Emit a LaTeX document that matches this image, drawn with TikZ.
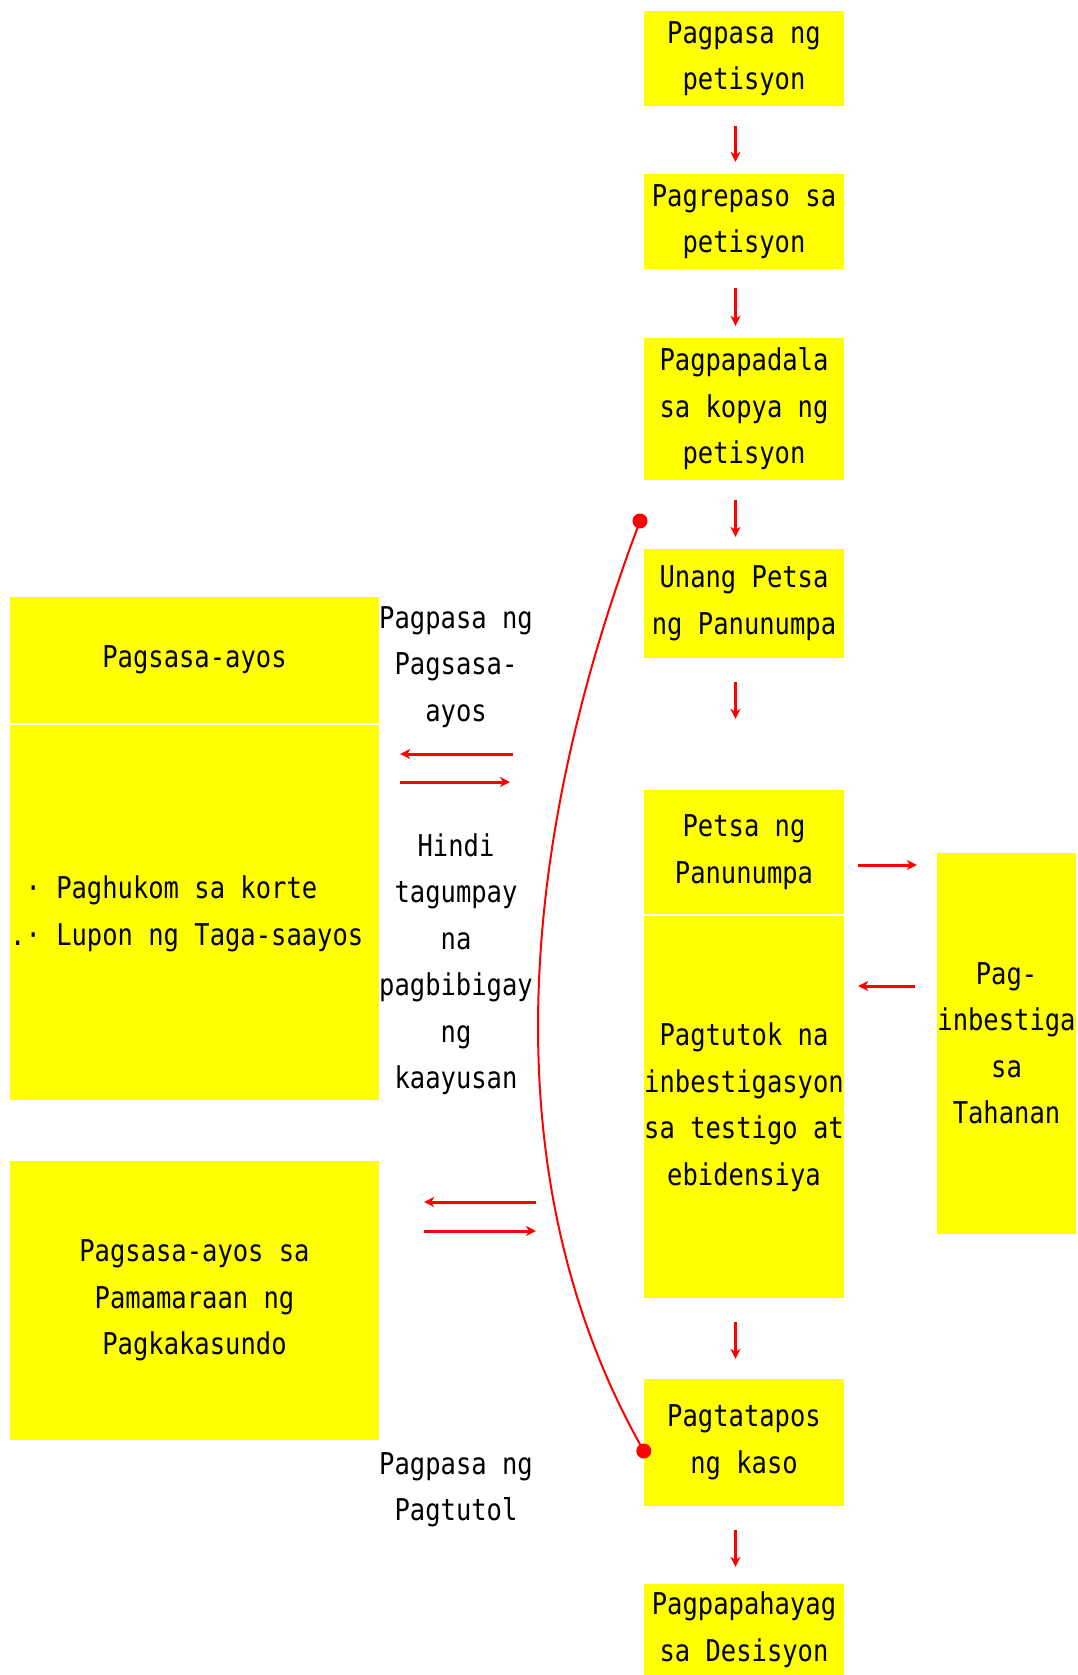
\documentclass[tikz,border=0pt]{standalone}
\usepackage{fontspec}
\newfontfamily\gmono[FakeStretch=0.85]{DejaVu Sans Mono}
\usetikzlibrary{arrows.meta}
\definecolor{ybox}{RGB}{255,255,0}
\definecolor{rline}{RGB}{255,0,0}
\newcommand\dtxt{\gmono\fontsize{30}{46.5}\selectfont}
\begin{document}
\begin{tikzpicture}[x=1pt,y=-1pt,
  box/.style={fill=ybox, inner sep=0pt, align=center, font=\dtxt, text=black},
  lbl/.style={inner sep=0pt, align=center, font=\dtxt, text=black},
  arr/.style={draw=rline, line width=3pt, -{Stealth[length=10pt,width=10pt,inset=3pt]}},
  curv/.style={draw=rline, line width=2pt},
  dotp/.style={fill=rline}
]
\useasboundingbox (0,0) rectangle (1078,1675);

% main column
\node[box, minimum width=200pt, minimum height=95pt]  (b1) at (744,58.5)  {Pagpasa ng\\petisyon};
\node[box, minimum width=200pt, minimum height=95pt]  (b2) at (744,221.5) {Pagrepaso sa\\petisyon};
\node[box, minimum width=200pt, minimum height=142pt] (b3) at (744,409)   {Pagpapadala\\sa kopya ng\\petisyon};
\node[box, minimum width=200pt, minimum height=109pt] (b4) at (744,603.5) {Unang Petsa\\ng Panunumpa};
\node[box, minimum width=200pt, minimum height=124pt] (b5) at (744,852)   {Petsa ng\\Panunumpa};
\node[box, minimum width=200pt, minimum height=382pt] (b6) at (744,1107)  {Pagtutok na\\inbestigasyon\\sa testigo at\\ebidensiya};
\node[box, minimum width=200pt, minimum height=127pt] (b7) at (744,1442.5){Pagtatapos\\ng kaso};
\node[box, minimum width=200pt, minimum height=91pt]  (b8) at (744,1629.5){Pagpapahayag\\sa Desisyon};

% right box
\node[box, minimum width=139pt, minimum height=381pt] (r) at (1006.5,1043.5) {Pag-\\inbestiga\\sa\\Tahanan};

% left boxes
\node[box, minimum width=369pt, minimum height=126pt] (la) at (194.5,660) {Pagsasa-ayos};
\node[box, minimum width=369pt, minimum height=375pt] (lb) at (194.5,912.5) {};
\node[lbl, align=left, anchor=west] (lbt) at (10,914) {\phantom{.}· Paghukom sa korte\\.· Lupon ng Taga-saayos};
\node[box, minimum width=369pt, minimum height=279pt] (lc) at (194.5,1300.5) {Pagsasa-ayos sa\\Pamamaraan ng\\Pagkakasundo};

% labels
\node[lbl] (l1) at (456,667) {Pagpasa ng\\Pagsasa-\\ayos};
\node[lbl] (l2) at (456,964) {Hindi\\tagumpay\\na\\pagbibigay\\ng\\kaayusan};
\node[lbl] (l3) at (456,1490) {Pagpasa ng\\Pagtutol};

% vertical arrows
\draw[arr, shorten <=20pt, shorten >=12pt] ([xshift=-8.5pt]b1.south) -- ([xshift=-8.5pt]b2.north);
\draw[arr, shorten <=19pt, shorten >=12pt] ([xshift=-8.5pt]b2.south) -- ([xshift=-8.5pt]b3.north);
\draw[arr, shorten <=20pt, shorten >=12pt] ([xshift=-8.5pt]b3.south) -- ([xshift=-8.5pt]b4.north);
\draw[arr, shorten <=24pt, shorten >=71pt] ([xshift=-8.5pt]b4.south) -- ([xshift=-8.5pt]b5.north);
\draw[arr, shorten <=24pt, shorten >=20pt] ([xshift=-8.5pt]b6.south) -- ([xshift=-8.5pt]b7.north);
\draw[arr, shorten <=24pt, shorten >=17pt] ([xshift=-8.5pt]b7.south) -- ([xshift=-8.5pt]b8.north);

% right side arrows
\draw[arr, shorten <=14pt, shorten >=20pt] ([yshift=-13pt]b5.east) -- ([yshift=-13pt]b5.east -| r.west);
\draw[arr, shorten <=22pt, shorten >=14pt] ([yshift=121pt]b6.east -| r.west) -- ([yshift=121pt]b6.east);

% left middle arrows
\coordinate (a1) at (513,754);
\coordinate (a2) at (510,782);
\draw[arr, shorten >=21pt] (a1) -- (a1 -| lb.east);
\draw[arr, shorten <=21pt] (a2 -| lb.east) -- (a2);
\coordinate (a3) at (536,1202);
\coordinate (a4) at (536,1231);
\draw[arr, shorten >=45pt] (a3) -- (a3 -| lc.east);
\draw[arr, shorten <=45pt] (a4 -| lc.east) -- (a4);

% curve
\coordinate (cs) at (640,521);
\coordinate (ce) at ([yshift=-8.5pt]b7.west);
\draw[curv] (cs) .. controls (512,860) and (495,1190) .. (ce);
\fill[dotp] (cs) circle (7.5pt);
\fill[dotp] (ce) circle (7.5pt);
\end{tikzpicture}
\end{document}
